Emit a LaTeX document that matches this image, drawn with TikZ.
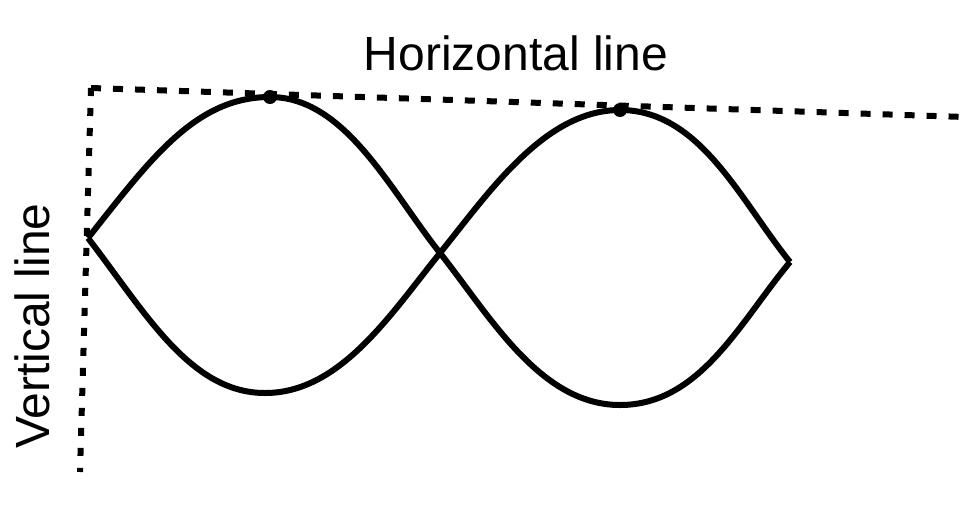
\documentclass[tikz,border=0pt]{standalone}
\usepackage{fontspec}
\setmainfont{Liberation Sans}
\begin{document}
\begin{tikzpicture}[x=0.5pt,y=-0.5pt,
  curve/.style={line width=3pt,line join=round},
  guide/.style={line width=3pt,dash pattern=on 5pt off 6pt},
  vguide/.style={line width=3pt,dash pattern=on 4pt off 6pt},
  lbl/.style={font=\fontsize{24}{26}\selectfont,inner sep=0pt},
  dot/.style={circle,fill=black,inner sep=0pt,minimum size=7pt}]
\useasboundingbox (0,0) rectangle (977,509);
\coordinate (corner) at (91,88);
\coordinate (hend) at (965,117);
\coordinate (vend) at (80,472);
\coordinate (L) at (88,238);
\coordinate (X) at (440,253);
\coordinate (R) at (790,262);
\node[dot] (t1) at (270,97) {};
\node[dot] (t2) at (620,110) {};
\draw[guide] (corner) -- (hend);
\draw[vguide] (corner) -- (vend);
\draw[curve] (L) .. controls (150,160) and (195,97) .. (t1.center)
  .. controls (345,97) and (390,190) .. (X)
  .. controls (490,316) and (540,405) .. (620,405)
  .. controls (700,405) and (740,322) .. (R);
\draw[curve] (L) .. controls (145,312) and (190,393) .. (265,393)
  .. controls (340,393) and (390,315) .. (X)
  .. controls (490,191) and (545,110) .. (t2.center)
  .. controls (700,110) and (740,200) .. (R);
\node[lbl] (htext) at (516,53) {Horizontal line};
\node[lbl,rotate=90] (vtext) at (32,326) {Vertical line};
\end{tikzpicture}
\end{document}
